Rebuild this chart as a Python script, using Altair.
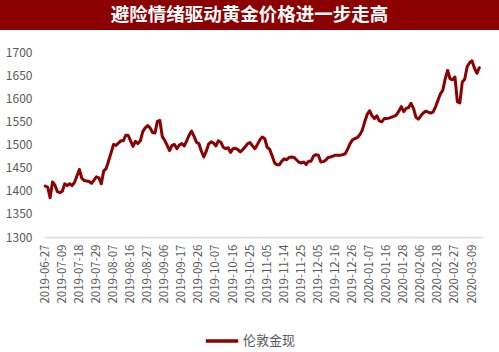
import json
import altair as alt
import pandas as pd

title_text = "避险情绪驱动黄金价格进一步走高"
series_name = "伦敦金现"

tick_labels = [
    "2019-06-27", "2019-07-09", "2019-07-18", "2019-07-29", "2019-08-07",
    "2019-08-16", "2019-08-27", "2019-09-06", "2019-09-17", "2019-09-26",
    "2019-10-07", "2019-10-16", "2019-10-25", "2019-11-05", "2019-11-14",
    "2019-11-25", "2019-12-05", "2019-12-16", "2019-12-26", "2020-01-07",
    "2020-01-16", "2020-01-28", "2020-02-06", "2020-02-18", "2020-02-27",
    "2020-03-09",
]
label_step = 7

prices = [
    1410, 1408, 1385, 1419, 1412, 1398, 1396, 1399, 1415, 1411,
    1415, 1411, 1418, 1432, 1446, 1427, 1422, 1421, 1420, 1416,
    1423, 1430, 1428, 1415, 1443, 1448, 1465, 1482, 1500, 1498,
    1503, 1508, 1508, 1520, 1520, 1508, 1496, 1507, 1502, 1508,
    1528, 1536, 1541, 1536, 1526, 1525, 1550, 1552, 1517, 1509,
    1498, 1487, 1498, 1500, 1491, 1499, 1502, 1497, 1508, 1520,
    1529, 1518, 1505, 1502, 1486, 1473, 1485, 1501, 1506, 1503,
    1497, 1508, 1505, 1494, 1491, 1493, 1483, 1491, 1492, 1489,
    1484, 1489, 1495, 1502, 1504, 1497, 1491, 1500, 1510, 1516,
    1513, 1494, 1490, 1476, 1461, 1456, 1456, 1464, 1469, 1467,
    1472, 1473, 1472, 1467, 1462, 1460, 1462, 1457, 1464, 1464,
    1475, 1478, 1477, 1462, 1463, 1466, 1472, 1473, 1475, 1477,
    1477, 1477, 1478, 1480, 1490, 1502, 1510, 1513, 1515, 1521,
    1531, 1549, 1565, 1573, 1562, 1556, 1562, 1551, 1549, 1556,
    1556, 1557, 1559, 1561, 1564, 1572, 1582, 1571, 1578, 1580,
    1589, 1578, 1559, 1555, 1562, 1568, 1572, 1570, 1568, 1570,
    1581, 1595, 1609, 1617, 1642, 1660, 1642, 1640, 1646, 1592,
    1590, 1635, 1641, 1668, 1677, 1681, 1665, 1654, 1666,
]
n_categories = 180

y_ticks = [1300, 1350, 1400, 1450, 1500, 1550, 1600, 1650, 1700]

RED = "#8B0000"
GRAY = "#595959"
FONT = "Noto Sans CJK SC"

df = pd.DataFrame({
    "day": list(range(len(prices))),
    "price": prices,
    "series": [series_name] * len(prices),
})

label_expr = json.dumps(tick_labels) + f"[round(datum.value / {label_step})]"
tick_values = [i * label_step for i in range(len(tick_labels))]

line = alt.Chart(df).mark_line(strokeWidth=3, strokeJoin="round", strokeCap="round").encode(
    x=alt.X(
        "day:Q",
        scale=alt.Scale(domain=[-0.5, n_categories - 0.5], nice=False, zero=False),
        axis=alt.Axis(
            values=tick_values,
            labelExpr=label_expr,
            labelAngle=270,
            labelFontSize=11.5,
            labelColor=GRAY,
            labelFont=FONT,
            labelPadding=7,
            ticks=False,
            grid=False,
            domainColor="#D9D9D9",
            domainWidth=1.5,
            title=None,
            labelOverlap=False,
        ),
    ),
    y=alt.Y(
        "price:Q",
        scale=alt.Scale(domain=[1300, 1700], nice=False, zero=False),
        axis=alt.Axis(
            values=y_ticks,
            format="d",
            labelFontSize=12,
            labelColor=GRAY,
            labelFont=FONT,
            labelPadding=12,
            ticks=False,
            grid=False,
            domain=False,
            title=None,
        ),
    ),
    color=alt.Color(
        "series:N",
        scale=alt.Scale(domain=[series_name], range=[RED]),
        legend=alt.Legend(
            title=None,
            orient="none",
            legendX=160,
            legendY=271,
            symbolType="stroke",
            symbolStrokeWidth=3.5,
            symbolSize=1050,
            labelFontSize=13,
            labelColor=GRAY,
            labelFont=FONT,
            labelOffset=3,
        ),
    ),
)

banner = alt.Chart(alt.Data(values=[{}])).mark_rect(color=RED).encode(
    x=alt.value(-44), x2=alt.value(455), y=alt.value(-52), y2=alt.value(-22)
)

chart = alt.layer(banner, line).properties(
    width=439,
    height=185,
    autosize=alt.AutoSizeParams(type="none"),
    padding={"left": 44, "top": 52, "right": 16, "bottom": 115},
    title=alt.Title(
        text=title_text,
        color="white",
        fontSize=18.5,
        fontWeight="bold",
        font=FONT,
        anchor="middle",
        frame="group",
        dx=-14,
        baseline="middle",
        offset=-33,
    ),
).configure_view(stroke=None)

chart.save("out.html", embed_options={"renderer": "svg", "actions": False})
